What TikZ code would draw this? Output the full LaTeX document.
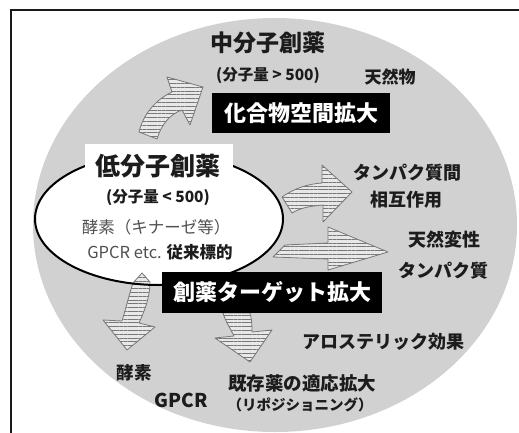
\documentclass[tikz,border=0pt]{standalone}
\usepackage{fontspec}
\setmainfont{Noto Sans CJK JP}
\usetikzlibrary{patterns.meta}
\definecolor{bggray}{RGB}{209,209,209}
\definecolor{arrowfill}{RGB}{232,232,232}
\definecolor{hatchcol}{RGB}{120,120,120}
\definecolor{txt}{RGB}{28,28,28}
\definecolor{softtxt}{RGB}{80,80,80}
\newcommand{\fsz}[1]{\fontsize{#1}{#1}\selectfont}
\begin{document}
\begin{tikzpicture}[x=1pt,y=-1pt,
  hatcharrow/.style={draw=hatchcol, line width=0.8pt, line join=round,
    preaction={fill=arrowfill},
    pattern={Lines[angle=0,distance=3.8pt,line width=0.6pt]}, pattern color=hatchcol},
  lbl/.style={inner sep=0pt, text=txt, font=\bfseries\fsz{#1}},
  soft/.style={inner sep=0pt, text=softtxt, font=\fsz{#1}},
  blackbox/.style={fill=black, text=white, inner sep=0pt, font=\bfseries\fsz{22}},
]
\useasboundingbox (0,0) rectangle (519,433);
% frame
\draw[line width=2pt, draw=black!90] (11,433) -- (11,10) -- (519,10);
% big gray ellipse
\fill[bggray] (275,225) ellipse [x radius=242pt, y radius=207pt];
% low-molecular ellipse fill
\fill[white] (159,219) ellipse [x radius=124pt, y radius=66pt];
% arrows
\path[hatcharrow] (139,132) .. controls (143,115) and (155,100) .. (172,92)
  -- (167,77) -- (203,87) -- (190,125) -- (182,110)
  .. controls (170,114) and (161,125) .. (157,139) -- cycle;
\path[hatcharrow] (282,197) .. controls (295,188) and (308,184) .. (322,183)
  -- (322,165) -- (352,192) -- (323,222) -- (323,205)
  .. controls (310,206) and (300,208) .. (292,213) -- cycle;
\path[hatcharrow] (285,245) -- (328,243) -- (328,227) -- (388,252)
  -- (328,270) -- (328,259) -- (273,257) -- cycle;
\path[hatcharrow] (142,273) -- (150,282) .. controls (150,298) and (144,312) .. (139,323)
  -- (155,327) -- (127,350) -- (103,320) -- (122,321)
  .. controls (126,308) and (129,295) .. (133,283) -- cycle;
\path[hatcharrow] (223,313) -- (250,313) .. controls (252,320) and (252,327) .. (252,332)
  -- (272,330) -- (250,362) -- (215,338) -- (234,336)
  .. controls (230,328) and (225,320) .. (223,313) -- cycle;
% low-molecular ellipse outline
\draw[line width=2pt] (159,219) ellipse [x radius=124pt, y radius=66pt];
% boxes
\node[blackbox, minimum width=178pt, minimum height=40pt] (cspace) at (301,113) {化合物空間拡大};
\node[blackbox, minimum width=220pt, minimum height=41pt] (target) at (272,292) {創薬ターゲット拡大};
\node[fill=white, inner sep=0pt, minimum width=148pt, minimum height=34pt] (lowbox) at (159,161) {};
% texts
\node[lbl=23] (mid) at (268,43) {中分子創薬};
\node[lbl=15.5] (midmw) at (268,76) {(分子量 > 500)};
\node[lbl=17] (natural) at (390,77) {天然物};
\node[lbl=25] (low) at (158,166) {低分子創薬};
\node[lbl=15.5] (lowmw) at (158,198) {(分子量 < 500)};
\node[soft=16.5] (enz) at (156,227) {酵素（キナーゼ等）};
\node[inner sep=0pt, font=\fsz{16.5}] (gpcretc) at (160,252) {\textcolor{softtxt}{GPCR etc.} \textcolor{txt}{\bfseries 従来標的}};
\node[lbl=18] (ppi1) at (407,173) {タンパク質間};
\node[lbl=18] (ppi2) at (406,200) {相互作用};
\node[lbl=18] (idp1) at (444,240) {天然変性};
\node[lbl=18] (idp2) at (443,271) {タンパク質};
\node[lbl=18] (allo) at (383,342) {アロステリック効果};
\node[lbl=17.5] (enz2) at (134,373) {酵素};
\node[lbl=19] (gpcr) at (181,400) {GPCR};
\node[lbl=18.5] (repo1) at (302,383) {既存薬の適応拡大};
\node[lbl=14.5] (repo2) at (300,405) {（リポジショニング）};
\end{tikzpicture}
\end{document}
